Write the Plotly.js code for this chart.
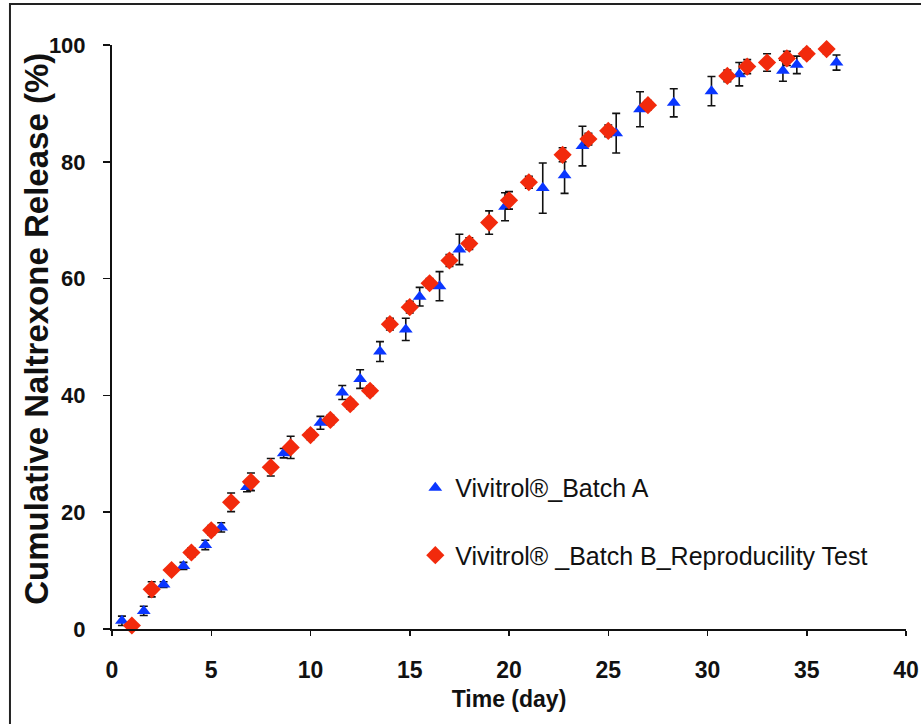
<!DOCTYPE html>
<html>
<head>
<meta charset="utf-8">
<script src="https://cdn.plot.ly/plotly-3.0.1.min.js"></script>
<style>
html,body{margin:0;padding:0;background:#fff;}
#chart{width:921px;height:724px;}
</style>
</head>
<body>
<div id="chart"></div>
<script>
// Vivitrol Batch A
const batchA_day = [0.5,1.6,2.6,3.6,4.7,5.5,6.8,8.65,10.5,11.6,12.5,13.5,14.8,15.5,16.5,17.5,19.8,21.7,22.8,23.7,25.4,26.6,28.3,30.2,31.6,33.8,34.5,36.5];
const batchA_val = [1.4,3.1,7.6,10.8,14.4,17.4,24.3,30.1,35.3,40.5,42.8,47.5,51.3,56.9,58.7,65.0,72.3,75.5,77.7,82.7,84.9,89.0,90.1,92.1,95.0,95.6,96.6,97.0];
const batchA_err = [0.8,0.8,0.5,0.6,0.8,0.8,0.8,0.8,1.1,1.2,1.6,1.7,1.9,1.6,2.5,2.6,2.4,4.3,3.1,3.4,3.4,3.0,2.4,2.5,2.0,1.8,1.5,1.3];

// Vivitrol Batch B (reproducibility test)
const batchB_day = [1,2,3,4,5,6,7,8,9,10,11,12,13,14,15,16,17,18,19,20,21,22.7,24,25,27,31,32,33,34,35,36];
const batchB_val = [0.6,6.8,10.1,13.1,16.9,21.7,25.2,27.7,31.1,33.2,35.8,38.5,40.8,52.2,55.1,59.2,63.1,66.0,69.6,73.4,76.5,81.2,83.9,85.3,89.7,94.7,96.3,97.0,97.7,98.5,99.3];
const batchB_err = [0.3,1.3,0.5,0.8,0.8,1.6,1.5,1.5,1.9,0.8,0.8,0.8,0.8,1.0,1.0,0.8,1.0,1.0,2.0,1.5,1.0,1.2,1.0,1.0,0.8,1.0,1.2,1.5,1.2,0.8,0.8];

const seriesNames = ["Vivitrol®_Batch A", "Vivitrol® _Batch B_Reproducility Test"];
const xTicks = [0,5,10,15,20,25,30,35,40];
const yTicks = [0,20,40,60,80,100];
const xTitle = 'Time (day)';
const yTitle = 'Cumulative Naltrexone Release (%)';

const font = '"Liberation Sans", Arial, sans-serif';

const traces = [
  {
    x: batchA_day, y: batchA_val, name: seriesNames[0], legendgroup: 'a',
    type: 'scatter', mode: 'markers', cliponaxis: false,
    marker: {symbol: 'triangle-up', size: 12, color: '#0a36ff'},
    error_y: {type: 'data', array: batchA_err, visible: true, color: '#111', thickness: 1.6, width: 4}
  },
  {
    x: batchB_day, y: batchB_val, name: seriesNames[1], legendgroup: 'b',
    type: 'scatter', mode: 'markers', cliponaxis: false,
    marker: {symbol: 'diamond', size: 14, color: '#f22a0c'},
    error_y: {type: 'data', array: batchB_err, visible: true, color: '#111', thickness: 1.6, width: 4}
  }
];

const layout = {
  width: 921, height: 724,
  margin: {l: 112, r: 15, t: 45, b: 95},
  paper_bgcolor: '#fff', plot_bgcolor: '#fff',
  showlegend: true,
  legend: {
    x: 0.382, y: 0.281, xanchor: 'left', yanchor: 'top',
    font: {family: font, size: 25, color: '#111'},
    traceorder: 'grouped', tracegroupgap: 32,
    bgcolor: 'rgba(0,0,0,0)'
  },
  xaxis: {
    range: [0, 40], tickvals: xTicks, ticktext: xTicks.map(String),
    showgrid: false, zeroline: false, showline: true, linecolor: '#111', linewidth: 2,
    ticks: 'outside', ticklen: 5, tickwidth: 1.5, tickcolor: '#111',
    ticklabelstandoff: 14, ticklabeloverflow: 'allow',
    tickfont: {family: font, size: 23, color: '#111', weight: 'bold'},
    title: {text: xTitle, standoff: 9, font: {family: font, size: 23, color: '#111', weight: 'bold'}}
  },
  yaxis: {
    range: [0, 100], tickvals: yTicks, ticktext: yTicks.map(String),
    showgrid: false, zeroline: false, showline: true, linecolor: '#111', linewidth: 2,
    ticks: 'outside', ticklen: 7, tickwidth: 1.5, tickcolor: '#111',
    ticklabelstandoff: 13,
    tickfont: {family: font, size: 22, color: '#111', weight: 'bold'}
  },
  annotations: [
    {text: yTitle, xref: 'paper', yref: 'paper', x: -0.0945, y: 0.514,
     xanchor: 'center', yanchor: 'middle', textangle: -90, showarrow: false,
     font: {family: font, size: 33, color: '#111', weight: 'bold'}}
  ],
  shapes: [
    {type: 'rect', xref: 'paper', yref: 'paper', x0: -0.1285, x1: 1.03, y0: -0.2, y1: 1.0702,
     line: {color: '#222', width: 2}, fillcolor: 'rgba(0,0,0,0)', layer: 'below'}
  ]
};

Plotly.newPlot('chart', traces, layout, {displayModeBar: false, staticPlot: true});
</script>
</body>
</html>
